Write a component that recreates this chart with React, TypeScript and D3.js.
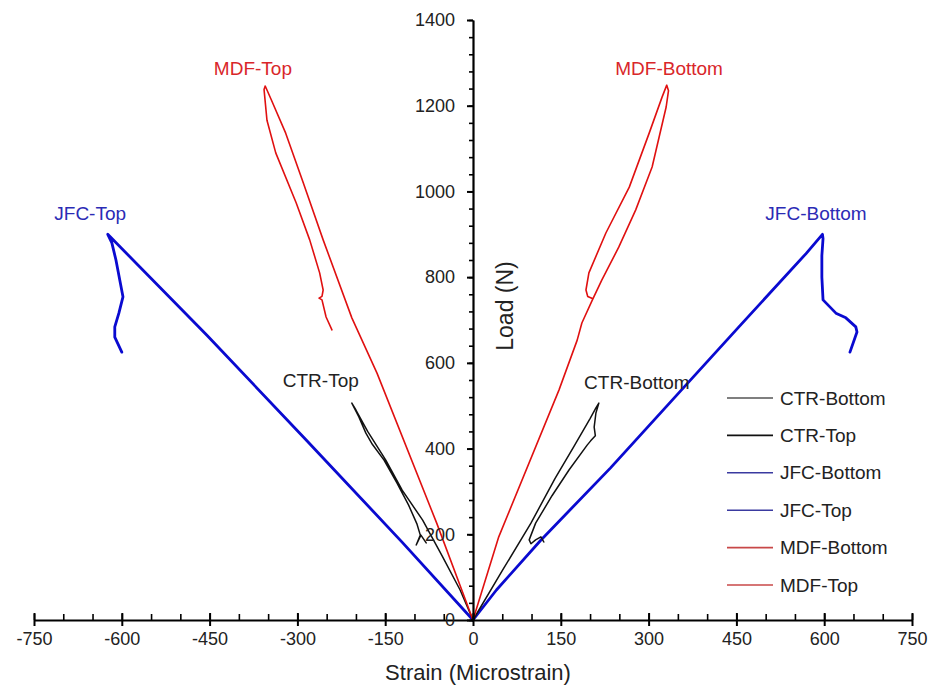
import React, { useEffect, useRef } from 'react';
import * as d3 from 'd3';

const W = 934;
const H = 687;

// [strain (microstrain), load (N)]
const ctrBottom: [number, number][] = [
  [0, 0], [50, 115], [99, 226], [140, 330], [172, 404], [200, 470], [210, 495],
  [215, 506], [210, 483], [207, 450], [209, 430], [201, 418], [195, 408],
  [164, 350], [135, 290], [107, 226], [96, 187], [99, 178],
  [107, 187], [116, 194], [121, 182],
];
const ctrTop: [number, number][] = [
  [0, 0], [-22, 70], [-53, 150], [-86, 233], [-121, 303], [-149, 373], [-180, 440],
  [-200, 490], [-207, 506], [-195, 474], [-183, 436], [-172, 410], [-152, 373],
  [-130, 320], [-110, 268], [-96, 225], [-90, 198], [-97, 175], [-89, 198], [-80, 180],
];
const jfcBottom: [number, number][] = [
  [0, 0], [40, 70], [115, 185], [235, 355], [345, 520], [457, 688], [569, 855],
  [597, 900], [598, 890], [596, 850], [596, 800], [598, 747], [620, 716],
  [637, 705], [654, 684], [656, 672], [644, 625],
];
const jfcTop: [number, number][] = [
  [0, 0], [-120, 180], [-285, 420], [-455, 665], [-624, 900],
  [-617, 880], [-610, 840], [-598, 754], [-605, 716], [-612, 684], [-612, 660], [-600, 625],
];
const mdfBottom: [number, number][] = [
  [0, 0], [44, 194], [147, 537], [178, 653], [186, 693], [204, 747], [220, 793],
  [249, 870], [278, 957], [306, 1057], [330, 1197], [334, 1235], [331, 1248],
  [323, 1220], [301, 1136], [267, 1010], [227, 903], [198, 810], [193, 770],
  [196, 755], [204, 750],
];
const mdfTop: [number, number][] = [
  [0, 0], [-62, 226], [-164, 576], [-207, 705], [-256, 887], [-290, 1020], [-320, 1136],
  [-345, 1215], [-355, 1246], [-357, 1238], [-352, 1166], [-337, 1090], [-302, 973],
  [-279, 887], [-262, 810], [-256, 770], [-258, 755], [-263, 751], [-258, 747],
  [-251, 707], [-241, 677],
];

const xTicks = [-750, -600, -450, -300, -150, 0, 150, 300, 450, 600, 750];
const yTicks = [0, 200, 400, 600, 800, 1000, 1200, 1400];

const legendNames = ['CTR-Bottom', 'CTR-Top', 'JFC-Bottom', 'JFC-Top', 'MDF-Bottom', 'MDF-Top'];
const legendColors = ['#555555', '#111111', '#3a3aa0', '#3a3aa0', '#c84848', '#c84848'];

// curve labels: [text, strain, load, colour]
const labels: [string, number, number, string][] = [
  ['MDF-Top', -376, 1288, '#d9262a'],
  ['MDF-Bottom', 335, 1288, '#d9262a'],
  ['JFC-Top', -654, 950, '#2b2bb5'],
  ['JFC-Bottom', 586, 950, '#2b2bb5'],
  ['CTR-Top', -260, 560, '#222222'],
  ['CTR-Bottom', 280, 555, '#222222'],
];

const font = '"Liberation Sans", Arial, sans-serif';

export default function App() {
  const xRef = useRef<SVGGElement>(null);
  const yRef = useRef<SVGGElement>(null);

  const x = d3.scaleLinear([-750, 750], [34, 912]);
  const y = d3.scaleLinear([0, 1400], [620, 20]);
  const line = d3.line<[number, number]>()
    .x(d => x(d[0]))
    .y(d => y(d[1]));

  useEffect(() => {
    const gx = d3.select(xRef.current!);
    gx.selectAll('*').remove();
    gx.append('g').call(
      d3.axisBottom(x).tickValues(d3.range(-750, 751, 50)).tickSize(0).tickFormat(() => '').tickSizeOuter(0)
    ).call(g => g.selectAll('.tick line').attr('y1', -6).attr('y2', 0).attr('stroke-width', 1.6));
    gx.append('g').call(
      d3.axisBottom(x).tickValues(xTicks).tickSize(6).tickPadding(6).tickSizeOuter(0)
        .tickFormat(d => String(d))
    ).call(g => {
      g.select('.domain').attr('stroke-width', 2.2);
      g.selectAll('.tick line').attr('y1', -7).attr('stroke-width', 2);
      g.selectAll('.tick text').attr('font-size', 18).attr('font-family', font).attr('fill', '#222');
    });

    const gy = d3.select(yRef.current!);
    gy.selectAll('*').remove();
    gy.append('g').call(
      d3.axisLeft(y).tickValues(d3.range(0, 1401, 40)).tickSize(4).tickFormat(() => '').tickSizeOuter(0)
    ).call(g => g.selectAll('.tick line').attr('stroke-width', 1.6));
    gy.append('g').call(
      d3.axisLeft(y).tickValues(yTicks).tickSize(6).tickPadding(12).tickSizeOuter(0)
        .tickFormat(d => String(d))
    ).call(g => {
      g.select('.domain').attr('stroke-width', 2.2);
      g.selectAll('.tick line').attr('stroke-width', 2);
      g.selectAll('.tick text').attr('font-size', 18).attr('font-family', font).attr('fill', '#222');
    });
  }, []);

  return (
    <svg width={W} height={H} style={{ position: 'absolute', left: 0, top: 0, background: '#fff' }}>
      <g fill="none" strokeLinejoin="round" strokeLinecap="round">
        <path d={line(jfcTop)!} stroke="#0a0ad0" strokeWidth={2.8} />
        <path d={line(jfcBottom)!} stroke="#0a0ad0" strokeWidth={2.8} />
        <path d={line(ctrTop)!} stroke="#111" strokeWidth={1.5} />
        <path d={line(ctrBottom)!} stroke="#111" strokeWidth={1.5} />
        <path d={line(mdfTop)!} stroke="#e01010" strokeWidth={1.6} />
        <path d={line(mdfBottom)!} stroke="#e01010" strokeWidth={1.6} />
      </g>

      <g ref={xRef} transform={`translate(0,${y(0)})`} />
      <g ref={yRef} transform={`translate(${x(0)},0)`} />

      {labels.map(([t, sx, ly, c]) => (
        <text key={t} x={x(sx)} y={y(ly)} dy="0.35em" textAnchor="middle"
          fontFamily={font} fontSize={19} fill={c}>{t}</text>
      ))}

      {legendNames.map((n, i) => (
        <g key={n} transform={`translate(727,${398 + i * 37.4})`}>
          <line x1={0} x2={46} y1={0} y2={0} stroke={legendColors[i]} strokeWidth={1.6} />
          <text x={53} dy="0.35em" fontFamily={font} fontSize={19} fill="#222">{n}</text>
        </g>
      ))}

      <text x={478} y={680} textAnchor="middle" fontFamily={font} fontSize={22} fill="#222">
        Strain (Microstrain)
      </text>
      <text transform={`translate(505,306) rotate(-90)`} textAnchor="middle" dy="0.35em"
        fontFamily={font} fontSize={23} fill="#222">Load (N)</text>
    </svg>
  );
}
